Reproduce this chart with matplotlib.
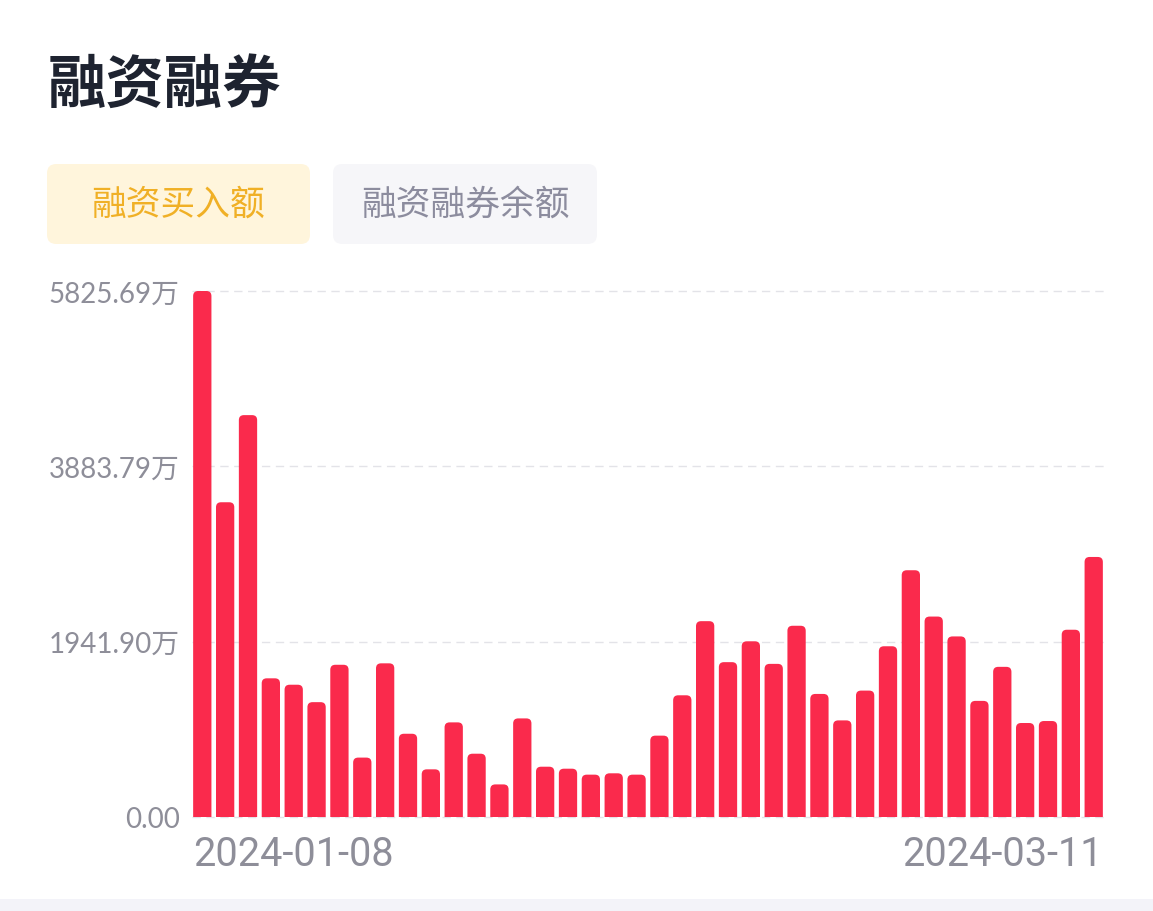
import matplotlib
matplotlib.use("Agg")
import matplotlib.pyplot as plt
from matplotlib.patches import FancyBboxPatch
import matplotlib.transforms as mtransforms

# ---------------- data ----------------
dates = [
    "2024-01-08", "2024-01-09", "2024-01-10", "2024-01-11", "2024-01-12",
    "2024-01-15", "2024-01-16", "2024-01-17", "2024-01-18", "2024-01-19",
    "2024-01-22", "2024-01-23", "2024-01-24", "2024-01-25", "2024-01-26",
    "2024-01-29", "2024-01-30", "2024-01-31", "2024-02-01", "2024-02-02",
    "2024-02-05", "2024-02-06", "2024-02-07", "2024-02-08", "2024-02-19",
    "2024-02-20", "2024-02-21", "2024-02-22", "2024-02-23", "2024-02-26",
    "2024-02-27", "2024-02-28", "2024-02-29", "2024-03-01", "2024-03-04",
    "2024-03-05", "2024-03-06", "2024-03-07", "2024-03-08", "2024-03-11",
]
buy_amount = [  # 万元
    5825.69, 3486, 4451, 1536, 1465, 1272, 1686, 658, 1702, 922,
    528, 1048, 701, 361, 1092, 557, 535, 469, 484, 469,
    901, 1348, 2169, 1715, 1946, 1696, 2118, 1363, 1070, 1400,
    1891, 2733, 2220, 2000, 1286, 1663, 1041, 1063, 2074, 2880,
]
y_ticks = [0.0, 1941.90, 3883.79, 5825.69]
y_tick_labels = ["0.00", "1941.90万", "3883.79万", "5825.69万"]
title = "融资融券"
tab_labels = ["融资买入额", "融资融券余额"]

# ---------------- style ----------------
W, H, DPI = 1153, 912, 100
BAR_COLOR = "#FA2A4C"
GRID_COLOR = "#E3E3E8"
LABEL_COLOR = "#8E8E99"
CJK = ["Noto Sans CJK SC", "DejaVu Sans"]
plt.rcParams["font.family"] = CJK

fig = plt.figure(figsize=(W / DPI, H / DPI), dpi=DPI, facecolor="white")


def px_box(x0, y0, x1, y1):
    """pixel (top-left origin) -> figure fraction rect"""
    return [x0 / W, 1 - y1 / H, (x1 - x0) / W, (y1 - y0) / H]


# bottom light strip
strip = fig.add_axes(px_box(0, 900, W, H))
strip.set_facecolor("#F3F3F9")
strip.set_xticks([]); strip.set_yticks([])
for s in strip.spines.values():
    s.set_visible(False)

# title
fig.text(48 / W, 1 - 86 / H, title, fontsize=42, fontweight="bold",
         color="#1E2330", ha="left", va="center", family=CJK)

# tabs
tab_specs = [
    (47, 165, 310, 245, "#FFF5DC", "#F0B026"),
    (333, 165, 597, 245, "#F6F6F9", "#8C8C9E"),
]
for (x0, y0, x1, y1, fc, tc), lab in zip(tab_specs, tab_labels):
    box = FancyBboxPatch((x0 / W, 1 - y1 / H), (x1 - x0) / W, (y1 - y0) / H,
                         boxstyle="round,pad=0,rounding_size=0.008",
                         transform=fig.transFigure, facecolor=fc,
                         edgecolor="none", mutation_aspect=W / H)
    fig.patches.append(box)
    fig.text((x0 + x1) / 2 / W, 1 - (y0 + y1) / 2 / H, lab, fontsize=25,
             color=tc, ha="center", va="center", family=CJK)

# main axes
ax = fig.add_axes(px_box(192, 292, 1104, 818))
ax.set_facecolor("none")
n = len(buy_amount)
ax.set_xlim(-0.45, n - 1 + 0.45)
ax.set_ylim(0, y_ticks[-1])
for s in ax.spines.values():
    s.set_visible(False)

# gridlines
for v in y_ticks:
    ax.axhline(v, color=GRID_COLOR, lw=1.0, ls=(0, (6, 4)), zorder=0,
               clip_on=False)

# bars with rounded tops
bars = ax.bar(range(n), buy_amount, width=0.8, color=BAR_COLOR, zorder=2)
ax_w_px = 1104 - 192
ax_h_px = 818 - 292
x_per_px = (ax.get_xlim()[1] - ax.get_xlim()[0]) / ax_w_px
y_per_px = (ax.get_ylim()[1] - ax.get_ylim()[0]) / ax_h_px
r_px = 5
aspect = y_per_px / x_per_px
for b in bars:
    x, w, h = b.get_x(), b.get_width(), b.get_height()
    b.set_visible(False)
    extra = r_px * y_per_px
    p = FancyBboxPatch((x, -extra), w, h + extra,
                       boxstyle=f"round,pad=0,rounding_size={r_px * x_per_px}",
                       mutation_aspect=aspect, facecolor=BAR_COLOR,
                       edgecolor="none", zorder=2, clip_on=True)
    ax.add_patch(p)

# y tick labels
ax.set_yticks(y_ticks)
ax.set_yticklabels(y_tick_labels)
ax.tick_params(axis="y", length=0, pad=9, labelsize=20, labelcolor=LABEL_COLOR)
for t in ax.get_yticklabels():
    t.set_family(["Lato", "Noto Sans CJK SC", "DejaVu Sans"])

# x labels: first and last date, aligned to bar edges
ax.set_xticks([])
trans = mtransforms.blended_transform_factory(ax.transData, ax.transAxes)
ax.text(bars[0].get_x(), -37 / ax_h_px, dates[0], transform=trans,
        ha="left", va="center", fontsize=28.5, color=LABEL_COLOR,
        family=["Roboto", "DejaVu Sans"])
ax.text(bars[-1].get_x() + bars[-1].get_width(), -37 / ax_h_px, dates[-1],
        transform=trans, ha="right", va="center", fontsize=28.5,
        color=LABEL_COLOR, family=["Roboto", "DejaVu Sans"])

fig.savefig("out.png", dpi=DPI, facecolor="white")
